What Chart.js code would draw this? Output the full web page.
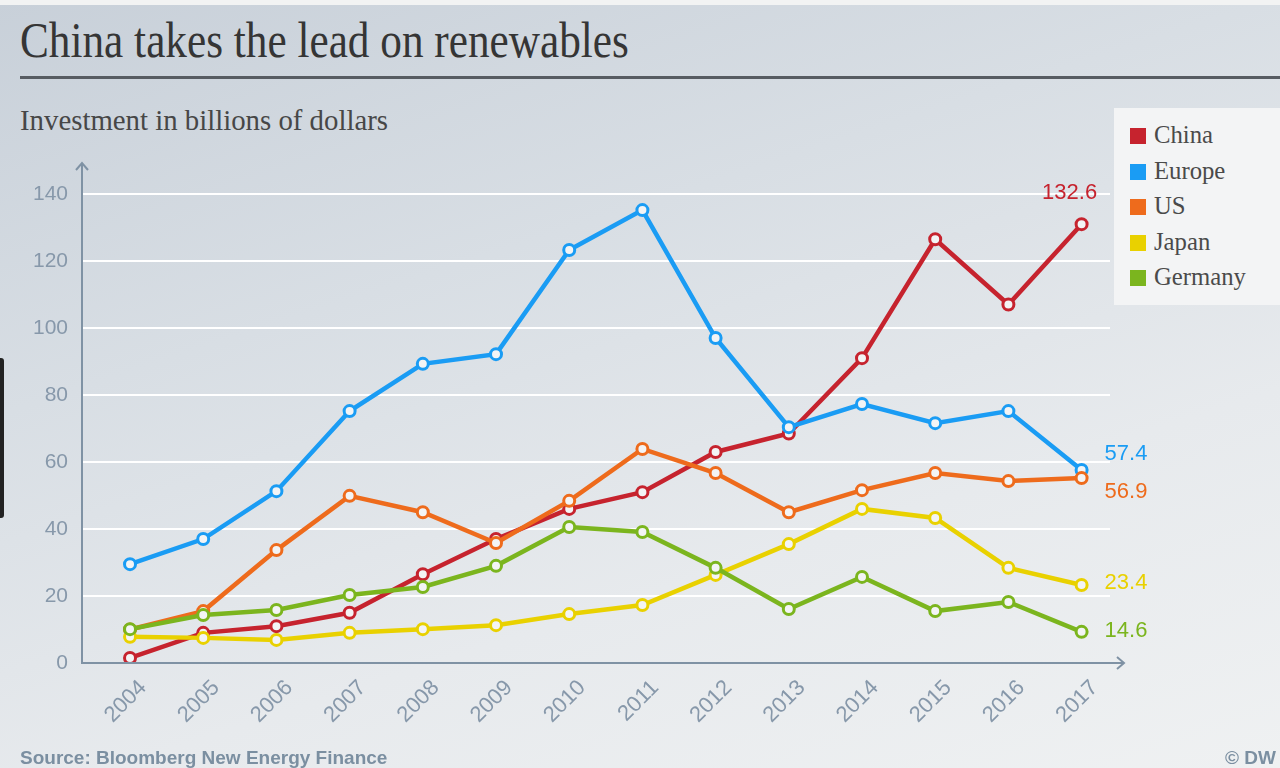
<!DOCTYPE html>
<html>
<head>
<meta charset="utf-8">
<script src="https://cdn.jsdelivr.net/npm/chart.js@4.4.0/dist/chart.umd.min.js"></script>
<style>
  html, body { margin: 0; padding: 0; }
  body {
    width: 1280px; height: 768px; overflow: hidden; position: relative;
    background: linear-gradient(162deg, #c8d0d9 0%, #d8dee4 35%, #e7eaed 68%, #eff1f2 100%);
    font-family: "Liberation Serif", serif;
  }
  #topstrip { position: absolute; left: 0; top: 0; width: 1280px; height: 5px; background: #f2f3f3; }
  #sidebar { position: absolute; left: 0; top: 358px; width: 4px; height: 160px; background: #222; border-radius: 0 3px 3px 0; }
  #title {
    position: absolute; left: 20px; top: 11px; font-size: 50px; color: #353535;
    transform: scaleX(0.865); transform-origin: left top; white-space: nowrap;
  }
  #rule { position: absolute; left: 20px; top: 76px; width: 1260px; height: 3px; background: #575c62; }
  #subtitle {
    position: absolute; left: 20px; top: 103px; font-size: 30px; color: #474747;
    transform: scaleX(0.96); transform-origin: left top; white-space: nowrap;
  }
  #legend { position: absolute; left: 1114px; top: 108px; width: 166px; height: 197px; background: #f3f4f5; }
  .item { position: absolute; left: 16px; height: 30px; white-space: nowrap; }
  .item span.sw { position: absolute; left: 0; top: 7px; width: 16px; height: 16px; }
  .item span.tx {
    position: absolute; left: 24px; top: -1px; font-size: 26px; color: #4a4a4a;
    transform: scaleX(0.95); transform-origin: left top;
  }
  #wrap { position: absolute; left: 0; top: 0; width: 1280px; height: 768px; }
  #source { position: absolute; left: 20px; top: 747px; font: bold 19px "Liberation Sans", sans-serif; color: #7b8fa1; white-space: nowrap; }
  #dw { position: absolute; right: 4px; top: 747px; font: bold 19px "Liberation Sans", sans-serif; color: #7b8fa1; }
</style>
</head>
<body>
<div id="topstrip"></div>
<div id="sidebar"></div>
<div id="title">China takes the lead on renewables</div>
<div id="rule"></div>
<div id="subtitle">Investment in billions of dollars</div>
<div id="wrap"><canvas id="chart"></canvas></div>
<div id="legend"></div>
<div id="source">Source: Bloomberg New Energy Finance</div>
<div id="dw">© DW</div>
<script>
const years = [2004, 2005, 2006, 2007, 2008, 2009, 2010, 2011, 2012, 2013, 2014, 2015, 2016, 2017]
const yTicks = [0, 20, 40, 60, 80, 100, 120, 140]

const seriesNames = ["China", "Europe", "US", "Japan", "Germany"]
const seriesColors = ["#c6232e", "#1a9cf4", "#ee6b1c", "#e9d100", "#7bb51e"]

const china   = [1.5, 9, 11, 15, 26.5, 37, 46, 51, 63, 68.5, 91, 126.5, 107, 131]
const europe  = [29.5, 37, 51.3, 75.2, 89.3, 92.2, 123.3, 135.2, 97, 70.4, 77.3, 71.6, 75.2, 57.6]
const us      = [10, 15.5, 33.7, 49.9, 45, 35.8, 48.4, 63.9, 56.7, 45, 51.6, 56.7, 54.3, 55.2]
const japan   = [7.8, 7.5, 6.9, 9, 10.1, 11.3, 14.6, 17.3, 26.3, 35.5, 46, 43.3, 28.4, 23.3]
const germany = [10.1, 14.3, 15.8, 20.3, 22.7, 29, 40.6, 39.1, 28.4, 16.1, 25.7, 15.5, 18.2, 9.3]

const endLabels = ["132.6", "57.4", "56.9", "23.4", "14.6"]

const seriesValues = [china, europe, us, japan, germany]

// legend
const legendBox = document.getElementById("legend")
seriesNames.forEach((name, i) => {
    const item = document.createElement("div")
    item.className = "item"
    item.style.top = (13 + i * 35.5) + "px"
    item.innerHTML = '<span class="sw" style="background:' + seriesColors[i] + '"></span><span class="tx">' + name + '</span>'
    legendBox.appendChild(item)
})

const axisColor = "#7f92a4"

// axis lines with arrows + value labels at the end of each line
const decorations = {
    id: "decorations",
    afterDatasetsDraw(chart) {
        const ctx = chart.ctx
        const area = chart.chartArea
        ctx.save()
        ctx.strokeStyle = axisColor
        ctx.lineWidth = 2
        ctx.beginPath()
        ctx.moveTo(area.left, 163)
        ctx.lineTo(area.left, area.bottom)
        ctx.lineTo(1124, area.bottom)
        ctx.stroke()
        ctx.beginPath()
        ctx.moveTo(area.left - 6, 170)
        ctx.lineTo(area.left, 163)
        ctx.lineTo(area.left + 6, 170)
        ctx.moveTo(1117, area.bottom - 6)
        ctx.lineTo(1124, area.bottom)
        ctx.lineTo(1117, area.bottom + 6)
        ctx.stroke()

        const offsets = [[-12, -31, "center"], [23, -16, "left"], [23, 14, "left"], [23, -2, "left"], [23, -1, "left"]]
        ctx.font = '22px "Liberation Sans", sans-serif'
        ctx.textBaseline = "middle"
        endLabels.forEach((txt, i) => {
            const pts = chart.getDatasetMeta(i).data
            const p = pts[pts.length - 1]
            ctx.fillStyle = seriesColors[i]
            ctx.textAlign = offsets[i][2]
            ctx.fillText(txt, p.x + offsets[i][0], p.y + offsets[i][1])
        })
        ctx.restore()
    }
}

const ctx = document.getElementById("chart").getContext("2d")
new Chart(ctx, {
    type: "line",
    data: {
        datasets: seriesNames.map((name, i) => ({
            label: name,
            data: years.map((yr, j) => ({ x: yr, y: seriesValues[i][j] })),
            borderColor: seriesColors[i],
            backgroundColor: "#f3f4f5",
            pointBorderColor: seriesColors[i],
            pointBackgroundColor: "#f3f4f5",
            borderWidth: 4.5,
            pointRadius: 5.5,
            pointBorderWidth: 3,
            tension: 0,
            order: seriesNames.length - i
        }))
    },
    options: {
        responsive: true,
        maintainAspectRatio: false,
        animation: false,
        layout: { padding: { top: 194, right: 170, bottom: 0, left: 0 } },
        plugins: { legend: { display: false }, tooltip: { enabled: false } },
        scales: {
            x: {
                type: "linear",
                min: 2003.344,
                max: 2017.388,
                afterFit: (s) => { s.height = 105 },
                grid: { display: false, drawTicks: false },
                border: { display: false },
                ticks: {
                    stepSize: 1,
                    includeBounds: false,
                    autoSkip: false,
                    minRotation: 45,
                    maxRotation: 45,
                    padding: 12,
                    labelOffset: 13,
                    color: "#8798aa",
                    font: { family: "Liberation Sans", size: 22 },
                    callback: (v) => years.includes(v) ? String(v) : ""
                }
            },
            y: {
                min: yTicks[0],
                max: yTicks[yTicks.length - 1],
                afterFit: (s) => { s.width = 82 },
                grid: {
                    color: (c) => c.tick.value === 0 ? "rgba(0,0,0,0)" : "#ffffff",
                    lineWidth: 2,
                    drawTicks: false
                },
                border: { display: false },
                ticks: {
                    stepSize: 20,
                    padding: 14,
                    color: "#8798aa",
                    font: { family: "Liberation Sans", size: 21 },
                    callback: (v) => yTicks.includes(v) ? String(v) : ""
                }
            }
        }
    },
    plugins: [decorations]
})
</script>
</body>
</html>
